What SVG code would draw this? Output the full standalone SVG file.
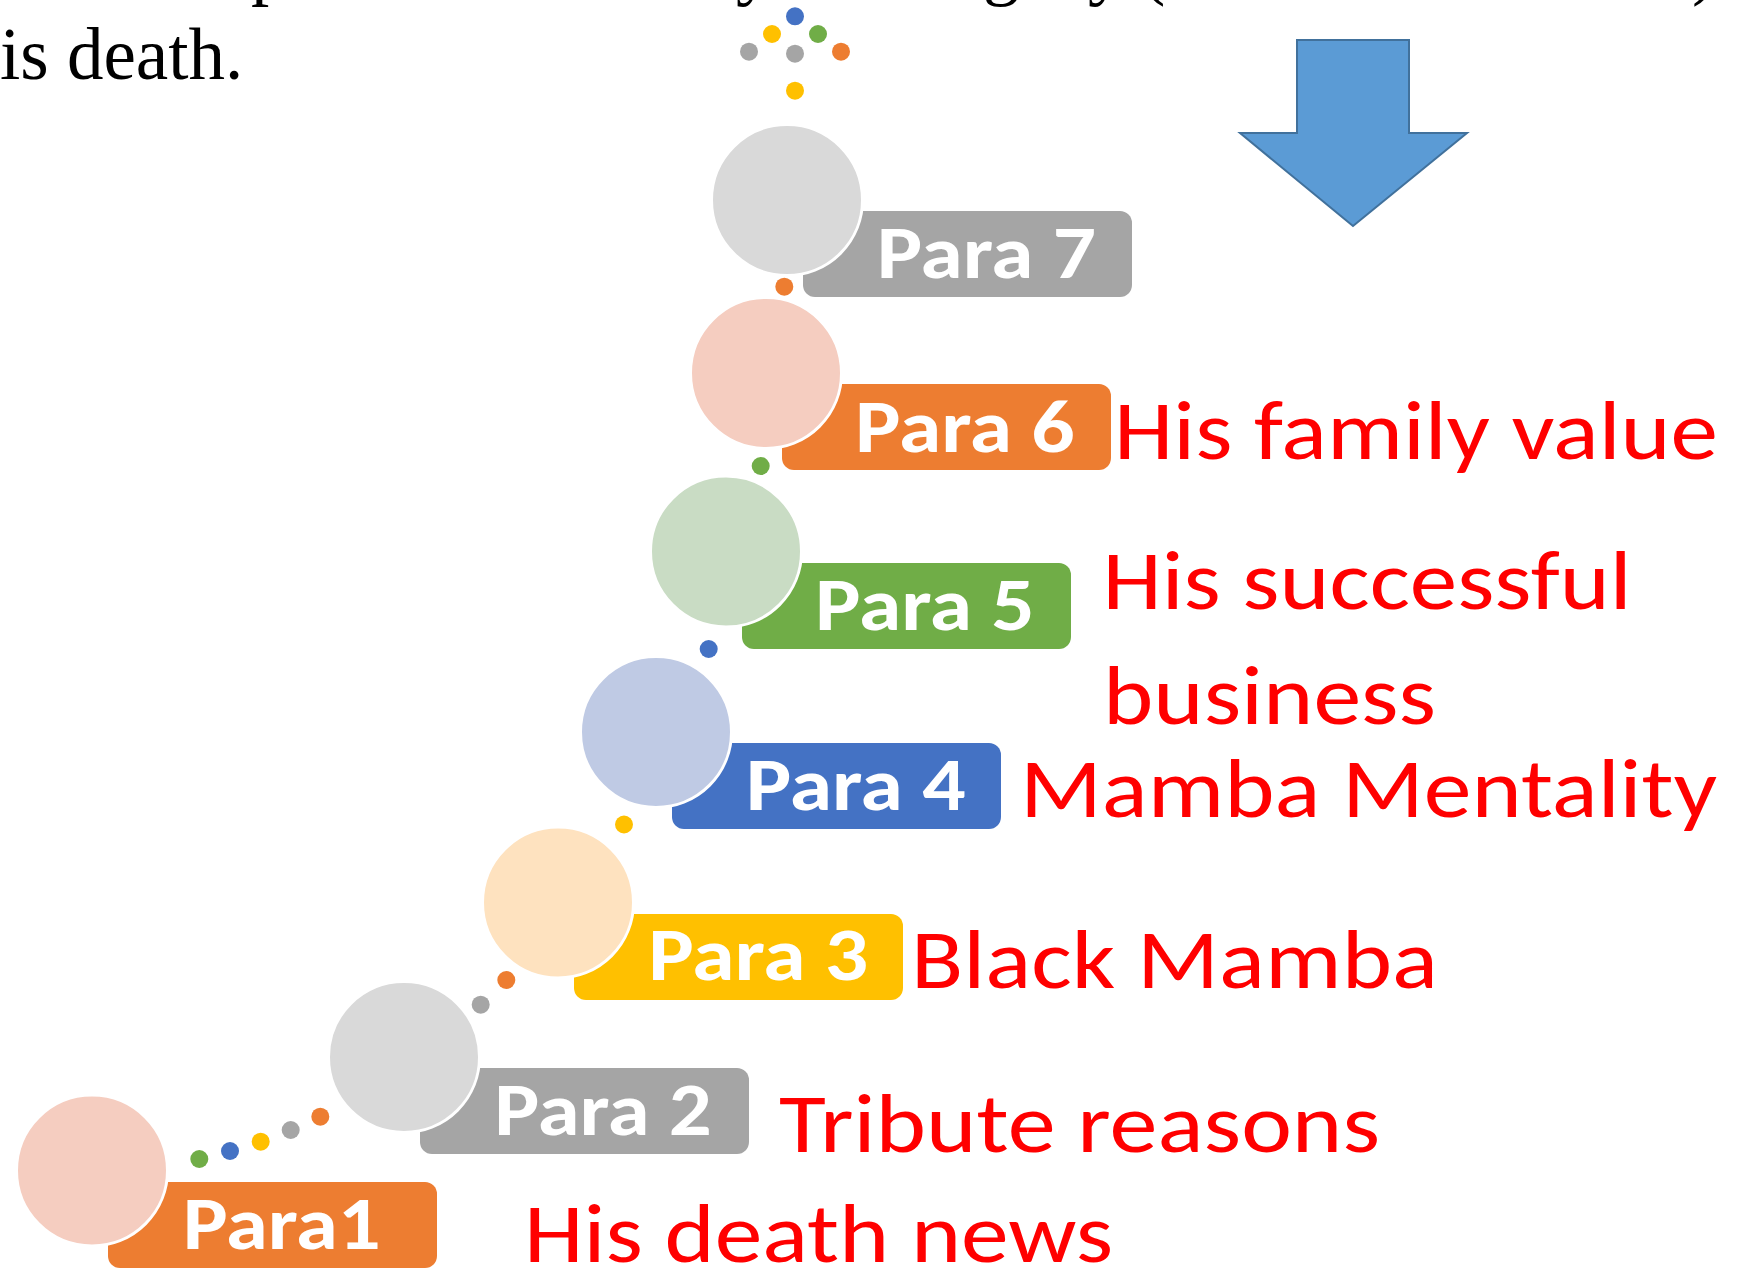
<svg xmlns="http://www.w3.org/2000/svg" width="1749" height="1270" viewBox="0 0 1749 1270">
<style>
.bg{fill:#ffffff}
.circ{stroke:#ffffff;stroke-width:3}
.lbl{font-family:"Carlito","Lato","Liberation Sans",sans-serif;font-weight:700;font-size:75px;fill:#ffffff}
.desc{font-family:"Carlito","Lato","Liberation Sans",sans-serif;font-weight:400;font-size:84px;fill:#ff0000}
.body{font-family:"Liberation Serif","Times New Roman",serif;font-size:73px;fill:#000000}
.dot{stroke:none}
.c-orange{fill:#ED7D31}.c-green{fill:#70AD47}.c-blue{fill:#4472C4}.c-yellow{fill:#FFC000}.c-gray{fill:#A5A5A5}
</style>
<rect class="bg" x="0" y="0" width="1749" height="1270"/>

<g id="page-text">
  <text class="body" y="-9"><tspan x="251">p</tspan><tspan x="736">y</tspan><tspan x="983">g</tspan><tspan x="1088">y</tspan><tspan x="1141">(</tspan><tspan x="1692">)</tspan></text>
  <text class="body" x="0" y="79">is death.</text>
</g>

<g id="arrow">
  <polygon points="1297,40 1409,40 1409,133 1467,133 1353,226 1240,133 1297,133" fill="#5B9BD5" stroke="#41719C" stroke-width="2" stroke-linejoin="miter"/>
</g>

<g id="connectors">
  <circle class="dot c-blue" cx="795" cy="16.3" r="9"/>
  <circle class="dot c-yellow" cx="772" cy="34" r="9"/>
  <circle class="dot c-green" cx="818" cy="34" r="9"/>
  <circle class="dot c-gray" cx="749" cy="51.7" r="9"/>
  <circle class="dot c-gray" cx="795" cy="53.7" r="9"/>
  <circle class="dot c-orange" cx="841" cy="51.7" r="9"/>
  <circle class="dot c-yellow" cx="795" cy="90.7" r="9"/>
  <circle class="dot c-orange" cx="784.3" cy="286.7" r="9"/>
  <circle class="dot c-green" cx="760.7" cy="466" r="9"/>
  <circle class="dot c-blue" cx="708.7" cy="649" r="9"/>
  <circle class="dot c-yellow" cx="624" cy="824.5" r="9"/>
  <circle class="dot c-orange" cx="506.3" cy="980" r="9"/>
  <circle class="dot c-gray" cx="480.7" cy="1004.7" r="9"/>
  <circle class="dot c-orange" cx="320.3" cy="1116.7" r="9"/>
  <circle class="dot c-gray" cx="290.7" cy="1130" r="9"/>
  <circle class="dot c-yellow" cx="260.7" cy="1141.7" r="9"/>
  <circle class="dot c-blue" cx="230" cy="1151" r="9"/>
  <circle class="dot c-green" cx="199.3" cy="1159" r="9"/>
</g>

<g id="para7">
  <rect x="803" y="211" width="329" height="86" rx="12" fill="#A5A5A5"/>
  <circle class="circ" cx="787" cy="200" r="75.5" fill="#D9D9D9"/>
  <text class="lbl" x="876.7" y="278" textLength="219.3" lengthAdjust="spacingAndGlyphs">Para 7</text>
</g>

<g id="para6">
  <rect x="782" y="384" width="329" height="86" rx="12" fill="#ED7D31"/>
  <circle class="circ" cx="766" cy="373" r="75.5" fill="#F5CDC0"/>
  <text class="lbl" x="855" y="451.7" textLength="219.7" lengthAdjust="spacingAndGlyphs">Para 6</text>
  <text class="desc" x="1114" y="459.3" textLength="604" lengthAdjust="spacingAndGlyphs">His family value</text>
</g>

<g id="para5">
  <rect x="742" y="563" width="329" height="86" rx="12" fill="#70AD47"/>
  <circle class="circ" cx="726" cy="551.5" r="75.5" fill="#C9DCC4"/>
  <text class="lbl" x="815" y="630" textLength="219.7" lengthAdjust="spacingAndGlyphs">Para 5</text>
  <text class="desc" x="1102.5" y="609" textLength="529" lengthAdjust="spacingAndGlyphs">His successful</text>
  <text class="desc" x="1103" y="724" textLength="333" lengthAdjust="spacingAndGlyphs">business</text>
</g>

<g id="para4">
  <rect x="672" y="743" width="329" height="86" rx="12" fill="#4472C4"/>
  <circle class="circ" cx="656" cy="732" r="75.5" fill="#BFCAE4"/>
  <text class="lbl" x="745.7" y="810" textLength="220" lengthAdjust="spacingAndGlyphs">Para 4</text>
  <text class="desc" x="1020" y="816.7" textLength="697" lengthAdjust="spacingAndGlyphs">Mamba Mentality</text>
</g>

<g id="para3">
  <rect x="574" y="914" width="329" height="86" rx="12" fill="#FFC000"/>
  <circle class="circ" cx="558" cy="902.5" r="75.5" fill="#FEE2BF"/>
  <text class="lbl" x="648.3" y="980" textLength="220" lengthAdjust="spacingAndGlyphs">Para 3</text>
  <text class="desc" x="911" y="988" textLength="527" lengthAdjust="spacingAndGlyphs">Black Mamba</text>
</g>

<g id="para2">
  <rect x="420" y="1068" width="329" height="86" rx="12" fill="#A5A5A5"/>
  <circle class="circ" cx="404" cy="1057" r="75.5" fill="#D9D9D9"/>
  <text class="lbl" x="494.3" y="1135" textLength="217.4" lengthAdjust="spacingAndGlyphs">Para 2</text>
  <text class="desc" x="779" y="1152.3" textLength="601" lengthAdjust="spacingAndGlyphs">Tribute reasons</text>
</g>

<g id="para1">
  <rect x="108" y="1182" width="329" height="86" rx="12" fill="#ED7D31"/>
  <circle class="circ" cx="92" cy="1170.5" r="75.5" fill="#F5CDC0"/>
  <text class="lbl" x="182.7" y="1249" textLength="198" lengthAdjust="spacingAndGlyphs">Para1</text>
  <text class="desc" x="524" y="1262" textLength="589" lengthAdjust="spacingAndGlyphs">His death news</text>
</g>
</svg>
